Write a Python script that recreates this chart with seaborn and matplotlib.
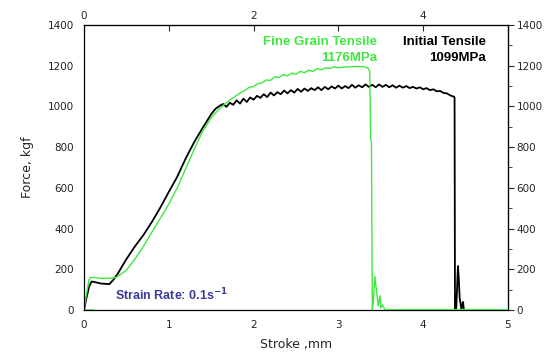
import numpy as np
import pandas as pd
import matplotlib
matplotlib.use("Agg")
import matplotlib.pyplot as plt
from matplotlib.ticker import MultipleLocator
import seaborn as sns

# ---- data (stroke in mm, force in kgf) ----
init_stroke = [0.00, 0.03, 0.06, 0.09, 0.12, 0.20, 0.30, 0.35, 0.40, 0.50, 0.60, 0.70,
               0.80, 0.90, 1.00, 1.10, 1.20, 1.30, 1.40, 1.50, 1.55,
               1.60, 1.64, 1.68, 1.72, 1.76, 1.80, 1.84, 1.88, 1.92, 1.96,
               2.00, 2.04, 2.08, 2.12, 2.16, 2.20, 2.24, 2.28, 2.32, 2.36,
               2.40, 2.44, 2.48, 2.52, 2.56, 2.60, 2.64, 2.68, 2.72, 2.76,
               2.80, 2.84, 2.88, 2.92, 2.96, 3.00, 3.04, 3.08, 3.12, 3.16,
               3.20, 3.24, 3.28, 3.32, 3.36, 3.40, 3.44, 3.48, 3.52, 3.56,
               3.60, 3.64, 3.68, 3.72, 3.76, 3.80, 3.84, 3.88, 3.92, 3.96,
               4.00, 4.04, 4.08, 4.12, 4.16, 4.20, 4.24, 4.28, 4.32, 4.36,
               4.37, 4.375, 4.39, 4.41, 4.42, 4.43, 4.45, 4.47, 4.48, 4.50, 5.00]
init_force = [0, 60, 115, 140, 138, 130, 127, 150, 180, 250, 312, 368,
              432, 503, 580, 655, 745, 825, 895, 962, 988,
              1003, 1012, 998, 1018, 1008, 1030, 1014, 1038, 1022, 1044,
              1033, 1052, 1042, 1060, 1046, 1068, 1054, 1070, 1060, 1078,
              1064, 1080, 1068, 1086, 1072, 1088, 1076, 1090, 1080, 1094,
              1080, 1096, 1084, 1098, 1088, 1102, 1088, 1100, 1090, 1106,
              1092, 1104, 1094, 1108, 1096, 1106, 1094, 1108, 1096, 1106,
              1094, 1104, 1092, 1102, 1092, 1100, 1090, 1096, 1088, 1094,
              1084, 1090, 1080, 1084, 1074, 1076, 1066, 1064, 1054, 1048,
              1045, 0, 10, 216, 150, 60, 5, 40, 0, 0, 0]

fine_stroke = [0.12, 0.00, 0.03, 0.06, 0.08, 0.12, 0.20, 0.30, 0.38, 0.50, 0.60, 0.70,
               0.80, 0.90, 1.00, 1.10, 1.20, 1.30, 1.40, 1.50, 1.60, 1.70,
               1.80, 1.85, 1.90, 1.95, 2.00, 2.05, 2.10, 2.15, 2.20, 2.25,
               2.30, 2.35, 2.40, 2.45, 2.50, 2.55, 2.60, 2.65, 2.70, 2.75,
               2.80, 2.85, 2.90, 2.95, 3.00, 3.10, 3.20, 3.30, 3.35, 3.37,
               3.38, 3.39, 3.40, 3.41, 3.43, 3.45, 3.47, 3.49, 3.50, 3.52, 3.55, 5.00]
fine_force = [0, 0, 80, 150, 160, 160, 155, 156, 160, 195, 250, 312,
              382, 450, 520, 600, 695, 790, 878, 945, 990, 1025,
              1055, 1068, 1080, 1094, 1098, 1112, 1116, 1130, 1128, 1146,
              1142, 1156, 1150, 1164, 1158, 1172, 1166, 1178, 1172, 1186,
              1180, 1190, 1186, 1194, 1190, 1194, 1196, 1195, 1188, 1170,
              850, 820, 0, 30, 165, 90, 20, 70, 10, 25, 0, 0]

GREEN = "#3ee83e"
BLUE = "#3b3b98"

init = pd.DataFrame({"stroke": init_stroke, "force": init_force})
fine = pd.DataFrame({"stroke": fine_stroke, "force": fine_force})

sns.set_style("white")
plt.rcParams["font.family"] = ["DejaVu Sans"]

fig = plt.figure(figsize=(5.44, 3.54), dpi=100)
ax = fig.add_axes([0.1544, 0.1243, 0.7794, 0.8051])

sns.lineplot(data=init, x="stroke", y="force", sort=False, estimator=None,
             color="black", linewidth=1.3, ax=ax)
sns.lineplot(data=fine, x="stroke", y="force", sort=False, estimator=None,
             color=GREEN, linewidth=1.0, ax=ax)
ax.plot([3.55, 5.0], [0, 0], color=GREEN, linewidth=2.2, zorder=5)

ax.set_xlim(0, 5)
ax.set_ylim(0, 1400)
ax.xaxis.set_major_locator(MultipleLocator(1))
ax.xaxis.set_minor_locator(MultipleLocator(0.5))
ax.yaxis.set_major_locator(MultipleLocator(200))
ax.yaxis.set_minor_locator(MultipleLocator(100))
ax.tick_params(which="both", direction="out", labelsize=7.5, colors="#222222", pad=3)
ax.tick_params(which="major", length=4, width=0.8)
ax.tick_params(which="minor", length=3, width=0.8)
for s in ax.spines.values():
    s.set_linewidth(0.9)
    s.set_color("black")

ax.set_xlabel("Stroke ,mm", fontsize=9, labelpad=6)
ax.set_ylabel("Force, kgf", fontsize=9, labelpad=10)

top = ax.secondary_xaxis("top")
top.set_xticks([0, 1, 2, 3, 4, 5])
top.set_xticklabels(["0", "", "2", "", "4", ""])
top.tick_params(direction="in", length=4, labelsize=7.5, pad=3)
right = ax.secondary_yaxis("right")
right.yaxis.set_major_locator(MultipleLocator(200))
right.yaxis.set_minor_locator(MultipleLocator(100))
right.tick_params(which="both", direction="out", labelsize=7.5, pad=2)
right.tick_params(which="major", length=4)
right.tick_params(which="minor", length=3)

bold = dict(fontsize=9.5, fontweight="bold", family=["Liberation Sans", "DejaVu Sans"],
            ha="right", va="center")
ax.text(3.455, 1316, "Fine Grain Tensile", color=GREEN, **bold)
ax.text(3.455, 1238, "1176MPa", color=GREEN, **bold)
ax.text(4.74, 1316, "Initial Tensile", color="black", **bold)
ax.text(4.74, 1238, "1099MPa", color="black", **bold)
ax.text(0.37, 74, r"Strain Rate: 0.1s$^{\mathbf{-1}}$", color=BLUE, fontsize=9,
        fontweight="bold", family=["Liberation Sans", "DejaVu Sans"], va="center")

fig.savefig("out.png", dpi=100)
